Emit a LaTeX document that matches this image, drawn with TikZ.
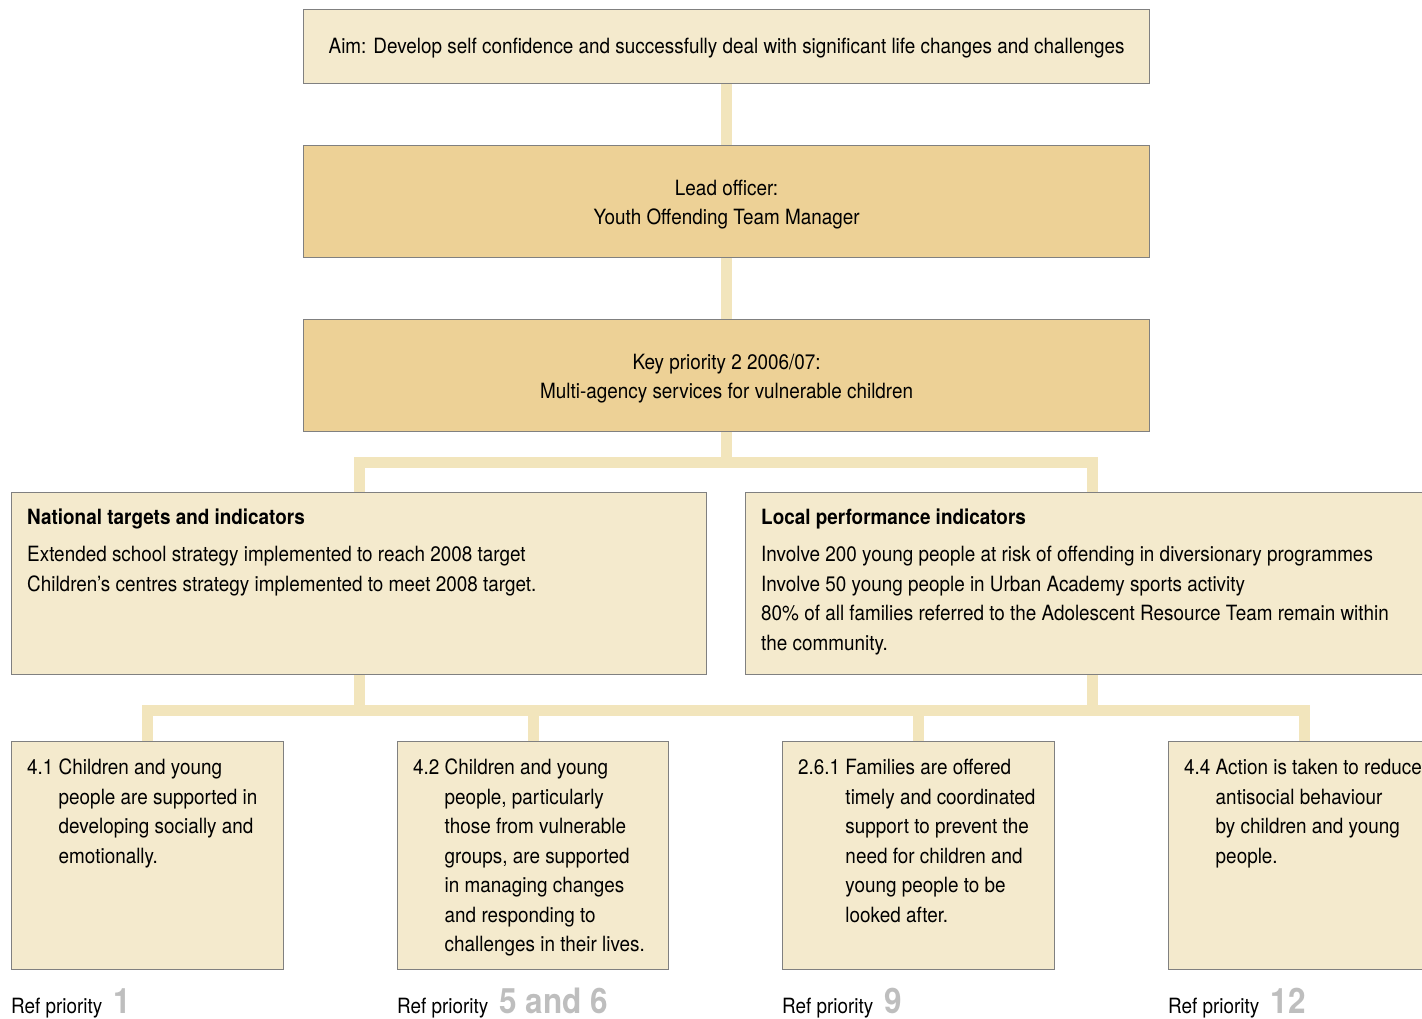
\documentclass[tikz,border=0pt]{standalone}
\usepackage{fontspec}
\setmainfont{TeX Gyre Heros}[FakeStretch=0.9]
\usetikzlibrary{positioning}
\definecolor{paleBox}{RGB}{244,234,205}
\definecolor{darkBox}{RGB}{237,209,150}
\definecolor{linkCol}{RGB}{242,229,188}
\definecolor{edgeCol}{RGB}{128,128,128}
\definecolor{refGray}{RGB}{190,190,190}
\newcommand\prionum[1]{\hspace{6pt}\textcolor{refGray}{\fontsize{35}{35}\selectfont\bfseries #1}}

\begin{document}
\begin{tikzpicture}[x=1pt, y=-1pt,
    every node/.style={font=\fontsize{21}{29.5}\selectfont},
    box/.style={draw=edgeCol, line width=1.2pt, anchor=north west, inner sep=0pt},
    pale/.style={box, fill=paleBox},
    dark/.style={box, fill=darkBox},
    txt/.style={anchor=north west, inner sep=0pt},
    link/.style={draw=linkCol, line width=11pt}]
    \useasboundingbox (0,0) rectangle (1422,1019);
    % top column
    \node (aim) [pale, minimum width=846, minimum height=74] at (303,9) {\raisebox{-2pt}[\height][\depth]{Aim: Develop self confidence and successfully deal with significant life changes and challenges}};
    \node (lead) [dark, minimum width=846, minimum height=112] at (303,145) {\raisebox{-2.5pt}[\height][\depth]{\begin{tabular}{@{}c@{}}Lead officer:\\Youth Offending Team Manager\end{tabular}}};
    \node (key) [dark, minimum width=846, minimum height=112] at (303,319) {\raisebox{-2.5pt}[\height][\depth]{\begin{tabular}{@{}c@{}}Key priority 2 2006/07:\\Multi-agency services for vulnerable children\end{tabular}}};
    % indicators
    \node (nat) [pale, minimum width=695, minimum height=182] at (11,492) {};
    \node (natT) [txt] at (27,504) {\begin{tabular}[t]{@{}l@{}}\textbf{National targets and indicators}\\[7.5pt]
        Extended school strategy implemented to reach 2008 target\\
        Children’s centres strategy implemented to meet 2008 target.\end{tabular}};
    \node (loc) [pale, minimum width=694, minimum height=182] at (745,492) {};
    \node (locT) [txt] at (761,504) {\begin{tabular}[t]{@{}l@{}}\textbf{Local performance indicators}\\[7.5pt]
        Involve 200 young people at risk of offending in diversionary programmes\\
        Involve 50 young people in Urban Academy sports activity\\
        80\% of all families referred to the Adolescent Resource Team remain within\\
        the community.\end{tabular}};
    % outcomes
    \node (b1) [pale, minimum width=272, minimum height=228] at (11,741) {};
    \node (b1T) [txt] at (27,754) {4.1 \begin{tabular}[t]{@{}l@{}}Children and young\\people are supported in\\developing socially and\\emotionally.\end{tabular}};
    \node (b2) [pale, minimum width=271, minimum height=228] at (397,741) {};
    \node (b2T) [txt] at (413,754) {4.2 \begin{tabular}[t]{@{}l@{}}Children and young\\people, particularly\\those from vulnerable\\groups, are supported\\in managing changes\\and responding to\\challenges in their lives.\end{tabular}};
    \node (b3) [pale, minimum width=272, minimum height=228] at (782,741) {};
    \node (b3T) [txt] at (798,754) {2.6.1 \begin{tabular}[t]{@{}l@{}}Families are offered\\timely and coordinated\\support to prevent the\\need for children and\\young people to be\\looked after.\end{tabular}};
    \node (b4) [pale, minimum width=272, minimum height=228] at (1168,741) {};
    \node (b4T) [txt] at (1184,754) {4.4 \begin{tabular}[t]{@{}l@{}}Action is taken to reduce\\antisocial behaviour\\by children and young\\people.\end{tabular}};
    % ref priorities
    \node (r1) [anchor=base west, inner sep=0pt] at (11,1013) {Ref priority \prionum{1}};
    \node (r2) [anchor=base west, inner sep=0pt] at (397,1013) {Ref priority \prionum{5 and 6}};
    \node (r3) [anchor=base west, inner sep=0pt] at (782,1013) {Ref priority \prionum{9}};
    \node (r4) [anchor=base west, inner sep=0pt] at (1168,1013) {Ref priority \prionum{12}};
    % connectors
    \draw [link] (aim.south) -- (lead.north);
    \draw [link] (lead.south) -- (key.north);
    \draw [link] (key.south) -- ++(0,31);
    \draw [link] (nat.north) -- ++(0,-30) -| (loc.north);
    \draw [link] (nat.south) -- ++(0,36);
    \draw [link] (loc.south) -- ++(0,36);
    \draw [link] (b1.north) -- ++(0,-31) -| (b4.north);
    \draw [link] (b2.north) -- ++(0,-31);
    \draw [link] (b3.north) -- ++(0,-31);
\end{tikzpicture}
\end{document}
